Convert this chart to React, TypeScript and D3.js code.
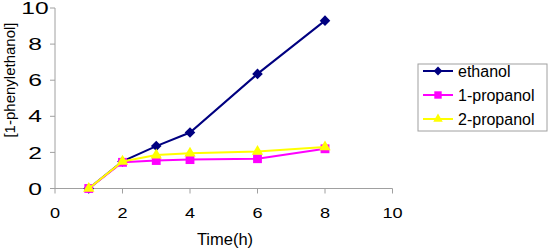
import React from 'react';
import * as d3 from 'd3';

const times = [1, 2, 3, 4, 6, 8];
const ethanol = [0, 1.5, 2.35, 3.1, 6.35, 9.3];
const propanol1 = [0, 1.45, 1.55, 1.6, 1.65, 2.2];
const propanol2 = [0, 1.5, 1.85, 1.95, 2.05, 2.3];
const xTicks = [0, 2, 4, 6, 8, 10];
const yTicks = [0, 2, 4, 6, 8, 10];

const seriesList = [
  { name: 'ethanol', values: ethanol, color: '#000080', symbol: d3.symbolSquare, size: 56, rotate: 45 },
  { name: '1-propanol', values: propanol1, color: '#ff00ff', symbol: d3.symbolSquare, size: 78, rotate: 0 },
  { name: '2-propanol', values: propanol2, color: '#ffff00', symbol: d3.symbolTriangle, size: 56, rotate: 0 },
];

const App = () => {
  const width = 550;
  const height = 249;
  const x = d3.scaleLinear().domain([0, 10]).range([55, 392.5]);
  const y = d3.scaleLinear().domain([0, 10]).range([188.5, 8]);
  const line = d3.line<number>()
    .x((d, i) => x(times[i]))
    .y(d => y(d));
  const font = '"Liberation Sans", Arial, sans-serif';
  const axisColor = '#a0a0a0';

  return (
    <svg width={width} height={height} style={{ position: 'absolute', left: 0, top: 0 }} fontFamily={font}>
      <rect width={width} height={height} fill="#fff" />
      {/* axes */}
      <line x1={x(0)} x2={x(0)} y1={y(10)} y2={y(0)} stroke={axisColor} />
      <line x1={x(0)} x2={x(10)} y1={y(0)} y2={y(0)} stroke={axisColor} />
      {yTicks.map(t => (
        <g key={'y' + t}>
          <line x1={x(0) - 5} x2={x(0)} y1={y(t)} y2={y(t)} stroke={axisColor} />
          <text transform={`translate(35,${y(t)}) scale(1.45,1)`} dy="0.36em" textAnchor="middle" fontSize={17}>{t}</text>
        </g>
      ))}
      {xTicks.map(t => (
        <g key={'x' + t}>
          <line x1={x(t)} x2={x(t)} y1={y(0)} y2={y(0) + 5} stroke={axisColor} />
          <text transform={`translate(${x(t)},218) scale(1.25,1)`} textAnchor="middle" fontSize={14.5}>{t}</text>
        </g>
      ))}
      <text x={225} y={245} textAnchor="middle" fontSize={16.5}>Time(h)</text>
      <text transform="translate(15,80) rotate(-90)" textAnchor="middle" fontSize={15}>[1-phenylethanol]</text>

      {/* series */}
      {seriesList.map(s => (
        <g key={s.name}>
          <path d={line(s.values) || ''} fill="none" stroke={s.color} strokeWidth={2} />
          {s.values.map((v, i) => (
            <path
              key={i}
              transform={`translate(${x(times[i])},${y(v)}) rotate(${s.rotate})`}
              d={d3.symbol().type(s.symbol).size(s.size)() || ''}
              fill={s.color}
            />
          ))}
        </g>
      ))}

      {/* legend */}
      <rect x={418} y={64} width={129} height={67} fill="#fff" stroke="#a0a0a0" />
      {seriesList.map((s, i) => {
        const ly = 71 + i * 24;
        return (
          <g key={'l' + s.name}>
            <line x1={423} x2={453} y1={ly} y2={ly} stroke={s.color} strokeWidth={2} />
            <path
              transform={`translate(438,${ly}) rotate(${s.rotate})`}
              d={d3.symbol().type(s.symbol).size(s.size * 0.7)() || ''}
              fill={s.color}
            />
            <text x={458} y={ly} dy="0.36em" fontSize={16}>{s.name}</text>
          </g>
        );
      })}
    </svg>
  );
};

export default App;
